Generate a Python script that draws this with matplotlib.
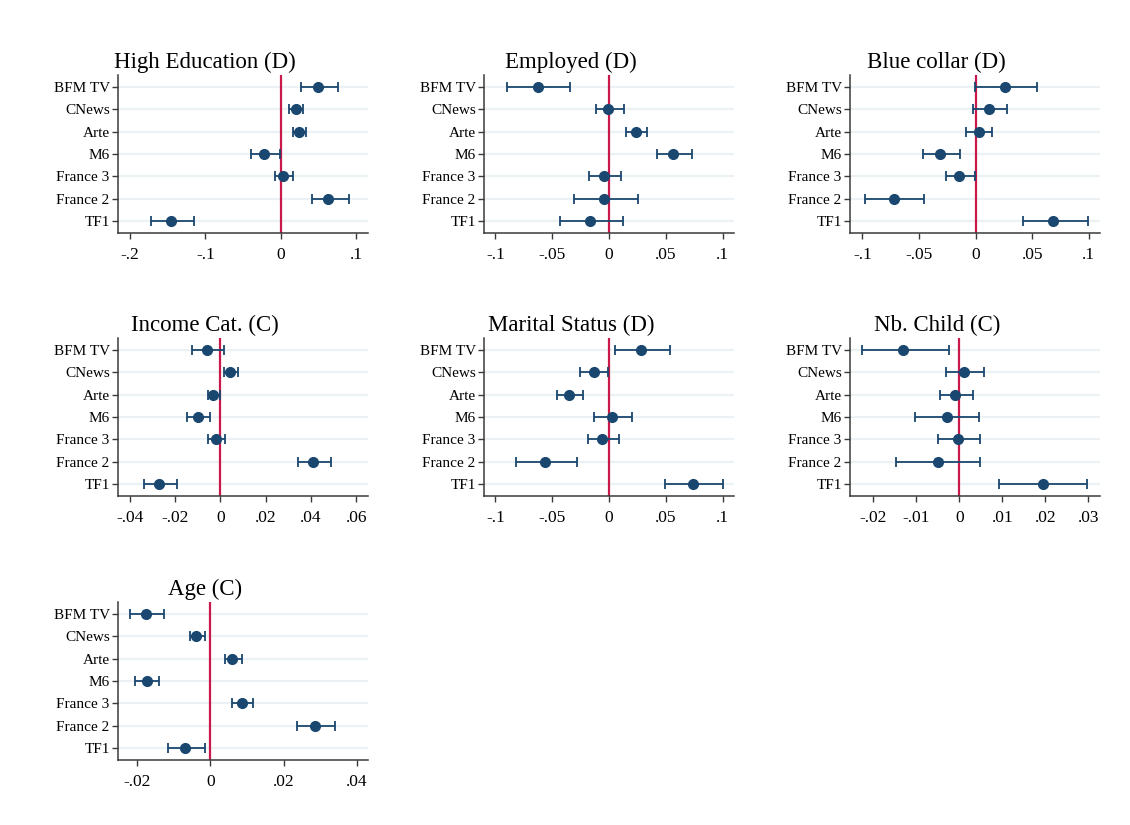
import numpy as np
import matplotlib
matplotlib.use("Agg")
from matplotlib import pyplot as plt

plt.rcParams['font.family'] = ['Liberation Serif', 'DejaVu Serif']

### Data: point estimate, lower / upper CI
channels = ["BFM TV", "CNews", "Arte", "M6", "France 3", "France 2", "TF1"]

high_edu_est = [0.050, 0.020, 0.024, -0.022, 0.0035, 0.063, -0.145]
high_edu_lo = [0.027, 0.011, 0.017, -0.040, -0.0075, 0.041, -0.172]
high_edu_hi = [0.076, 0.030, 0.034, -0.001, 0.0167, 0.0905, -0.115]

employed_est = [-0.0626, -0.0006, 0.0235, 0.0565, -0.0041, -0.0041, -0.0168]
employed_lo = [-0.090, -0.0118, 0.0147, 0.0426, -0.0174, -0.0309, -0.0435]
employed_hi = [-0.034, 0.0129, 0.0335, 0.0732, 0.0109, 0.0253, 0.0124]

blue_est = [0.0259, 0.0121, 0.0026, -0.0315, -0.0144, -0.0724, 0.0685]
blue_lo = [-0.0006, -0.002, -0.0082, -0.0468, -0.0259, -0.0976, 0.042]
blue_hi = [0.0541, 0.0274, 0.0147, -0.0135, -0.0006, -0.0456, 0.0991]

income_est = [-0.006, 0.0042, -0.0032, -0.0101, -0.0021, 0.0409, -0.0271]
income_lo = [-0.0125, 0.0016, -0.0053, -0.0147, -0.0053, 0.034, -0.0339]
income_hi = [0.0015, 0.0078, 0.0, -0.0047, 0.0021, 0.0488, -0.0191]

marital_est = [0.0279, -0.0135, -0.0356, 0.0024, -0.0062, -0.0562, 0.0738]
marital_lo = [0.0056, -0.0253, -0.0462, -0.0132, -0.0182, -0.0815, 0.0491]
marital_hi = [0.0535, -0.0006, -0.0232, 0.0203, 0.0085, -0.0282, 0.100]

child_est = [-0.013, 0.0012, -0.0009, -0.0029, -0.0002, -0.005, 0.0194]
child_lo = [-0.0227, -0.003, -0.0045, -0.0102, -0.0049, -0.0147, 0.0093]
child_hi = [-0.0024, 0.0057, 0.0031, 0.0046, 0.0049, 0.0049, 0.0297]

age_est = [-0.0177, -0.0039, 0.006, -0.0175, 0.0086, 0.0287, -0.0069]
age_lo = [-0.0221, -0.0057, 0.0041, -0.0206, 0.0059, 0.0238, -0.0115]
age_hi = [-0.0126, -0.0015, 0.0086, -0.014, 0.0117, 0.0341, -0.0014]

## panel settings: title, data, x limits, ticks, tick labels
panels = [
    ("High Education (D)", high_edu_est, high_edu_lo, high_edu_hi,
     (-0.216, 0.116), [-0.2, -0.1, 0, 0.1], ["-.2", "-.1", "0", ".1"]),
    ("Employed (D)", employed_est, employed_lo, employed_hi,
     (-0.110, 0.110), [-0.1, -0.05, 0, 0.05, 0.1], ["-.1", "-.05", "0", ".05", ".1"]),
    ("Blue collar (D)", blue_est, blue_lo, blue_hi,
     (-0.111, 0.110), [-0.1, -0.05, 0, 0.05, 0.1], ["-.1", "-.05", "0", ".05", ".1"]),
    ("Income Cat. (C)", income_est, income_lo, income_hi,
     (-0.0452, 0.0651), [-0.04, -0.02, 0, 0.02, 0.04, 0.06], ["-.04", "-.02", "0", ".02", ".04", ".06"]),
    ("Marital Status (D)", marital_est, marital_lo, marital_hi,
     (-0.110, 0.110), [-0.1, -0.05, 0, 0.05, 0.1], ["-.1", "-.05", "0", ".05", ".1"]),
    ("Nb. Child (C)", child_est, child_lo, child_hi,
     (-0.0254, 0.0327), [-0.02, -0.01, 0, 0.01, 0.02, 0.03], ["-.02", "-.01", "0", ".01", ".02", ".03"]),
    ("Age (C)", age_est, age_lo, age_hi,
     (-0.0253, 0.0431), [-0.02, 0, 0.02, 0.04], ["-.02", "0", ".02", ".04"]),
]

W, H = 1130, 825
fig = plt.figure(figsize=(W / 100, H / 100), dpi=100)
fig.patch.set_facecolor("white")

col_left = [118, 484, 850]
row_top = [75, 338, 602]
ax_w, ax_h = 250, 158

navy = "#1a476f"
red = "#c9184a"
grid_col = "#ebf1f4"
spine_col = "#3a3a3a"

ypos = np.arange(len(channels))[::-1]  # BFM TV on top

for i, (title, est, lo, hi, xlim, ticks, ticklabels) in enumerate(panels):
    r, c = divmod(i, 3)
    left = col_left[c] / W
    bottom = 1 - (row_top[r] + ax_h) / H
    ax = fig.add_axes([left, bottom, ax_w / W, ax_h / H])

    est = np.array(est)
    lo = np.array(lo)
    hi = np.array(hi)

    for y in ypos:
        ax.axhline(y, color=grid_col, lw=1.6, zorder=0)
    ax.axvline(0, color=red, lw=1.6, zorder=1)

    ax.errorbar(est, ypos, xerr=[est - lo, hi - est], fmt="o", color=navy,
                ms=7, capsize=3.5, capthick=1.3, elinewidth=1.3, zorder=3)

    ax.set_xlim(*xlim)
    ax.set_ylim(-0.55, len(channels) - 0.45)
    ax.set_xticks(ticks)
    ax.set_xticklabels(ticklabels, fontsize=12.5)
    ax.set_yticks(ypos)
    ax.set_yticklabels(channels, fontsize=11)

    for s in ["top", "right"]:
        ax.spines[s].set_visible(False)
    for s in ["left", "bottom"]:
        ax.spines[s].set_color(spine_col)
        ax.spines[s].set_linewidth(1.1)
    ax.tick_params(axis="both", direction="out", length=4, width=1.0, color=spine_col)
    ax.tick_params(axis="x", pad=6)
    ax.tick_params(axis="y", pad=2)

    ax.set_title(title, fontsize=16.5, x=0.347, pad=5)

plt.savefig("out.png", dpi=100, facecolor="white")
